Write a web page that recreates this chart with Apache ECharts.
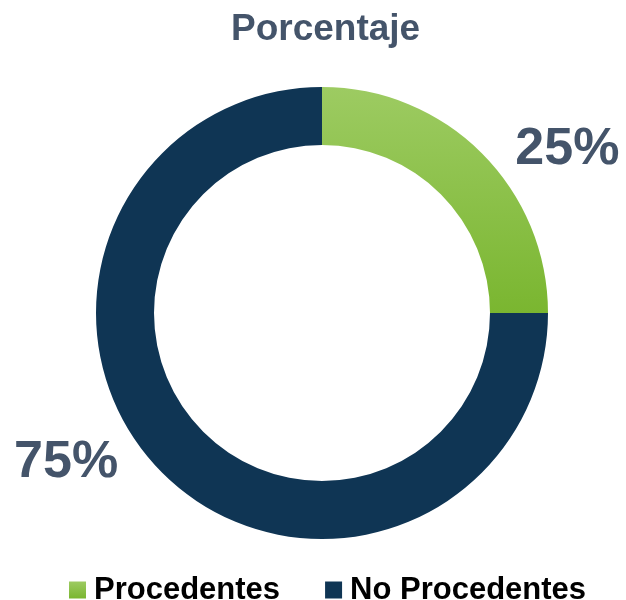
<!DOCTYPE html>
<html>
<head>
<meta charset="utf-8">
<script src="https://cdn.jsdelivr.net/npm/echarts@6/dist/echarts.min.js"></script>
<style>html,body{margin:0;padding:0;background:#fff}#c{width:626px;height:600px}</style>
</head>
<body>
<div id="c"></div>
<script>
const titleText = 'Porcentaje';
const categories = ['Procedentes', 'No Procedentes'];
const values = [25, 75];

const chart = echarts.init(document.getElementById('c'));
const font = '"Liberation Sans", Arial, sans-serif';
const green = new echarts.graphic.LinearGradient(0, 0, 0, 1, [
  { offset: 0, color: '#9dcb62' },
  { offset: 1, color: '#7ab630' }
]);
const navy = '#0f3554';
const labelLines = [
  { show: false, length: 5, length2: 25 },
  { show: false, length: 0, length2: 39 }
];
const labelShift = [0, -10];
chart.setOption({
  animation: false,
  title: {
    text: titleText, left: 226, top: 6,
    textStyle: { fontFamily: font, fontSize: 37, fontWeight: 'bold', color: '#44546a' }
  },
  legend: {
    top: 569, left: 64,
    itemWidth: 17, itemHeight: 17, itemGap: 45,
    icon: 'rect',
    textStyle: { fontFamily: font, fontSize: 31, fontWeight: 'bold', color: '#000', lineHeight: 32, padding: [0, 0, 0, 3] },
    data: categories
  },
  series: [{
    type: 'pie',
    center: [322, 313],
    radius: [168, 226],
    startAngle: 90,
    clockwise: true,
    avoidLabelOverlap: false,
    label: {
      show: true, position: 'outside',
      formatter: p => p.value + '%',
      fontFamily: font, fontSize: 52, fontWeight: 'bold', color: '#44546a'
    },
    labelLayout: p => ({ dy: labelShift[p.dataIndex] }),
    emphasis: { disabled: true },
    data: categories.map((name, i) => ({
      name: name,
      value: values[i],
      itemStyle: { color: i === 0 ? green : navy },
      labelLine: labelLines[i]
    }))
  }]
});
</script>
</body>
</html>
